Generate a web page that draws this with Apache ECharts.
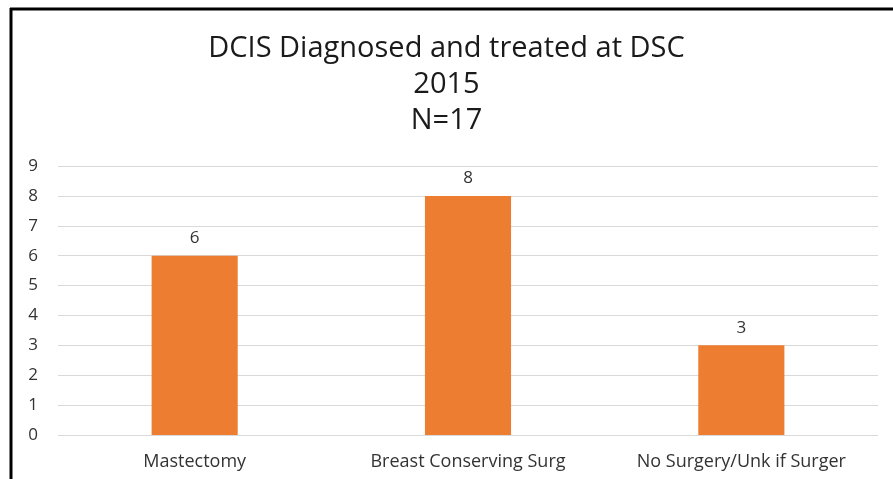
<!DOCTYPE html>
<html>
<head>
<meta charset="utf-8">
<script src="https://cdn.jsdelivr.net/npm/echarts@6/dist/echarts.min.js"></script>
<style>
  html, body { margin: 0; padding: 0; background: #fff; }
  #chart { width: 893px; height: 479px; }
</style>
</head>
<body>
<div id="chart"></div>
<script>
const FONT = '"Open Sans", "Noto Sans", sans-serif'

const titleLines = ['DCIS Diagnosed and treated at DSC', '2015', 'N=17']
const categories = ['Mastectomy', 'Breast Conserving Surg', 'No Surgery/Unk if Surger']
const counts = [6, 8, 3]

const chart = echarts.init(document.getElementById('chart'))

chart.setOption({
  animation: false,
  title: {
    text: titleLines.join('\n'),
    left: 'center',
    top: 26,
    textStyle: { fontFamily: FONT, fontSize: 29, fontWeight: 'normal', color: '#1a1a1a', lineHeight: 36 },
  },
  grid: { left: 58, right: 15, top: 166, bottom: 44 },
  xAxis: {
    type: 'category',
    data: categories,
    axisLine: { show: false },
    axisTick: { show: false },
    axisLabel: { interval: 0, fontFamily: FONT, fontSize: 18, color: '#333', margin: 18 },
  },
  yAxis: {
    type: 'value',
    min: 0,
    max: 9,
    interval: 1,
    axisLine: { show: false },
    axisTick: { show: false },
    axisLabel: { fontFamily: FONT, fontSize: 17, color: '#333', margin: 20 },
    splitLine: { lineStyle: { color: '#d9d9d9', width: 1 } },
  },
  series: [{
    type: 'bar',
    data: counts,
    barWidth: '31.5%',
    itemStyle: { color: '#ed7d31' },
    label: { show: true, position: 'top', distance: 9, fontFamily: FONT, fontSize: 17, color: '#333' },
  }],
  graphic: [
    { type: 'line', shape: { x1: 10, y1: 9, x2: 893, y2: 9 }, style: { stroke: '#000', lineWidth: 3 } },
    { type: 'line', shape: { x1: 11, y1: 8, x2: 11, y2: 479 }, style: { stroke: '#000', lineWidth: 3 } },
  ],
})
</script>
</body>
</html>
